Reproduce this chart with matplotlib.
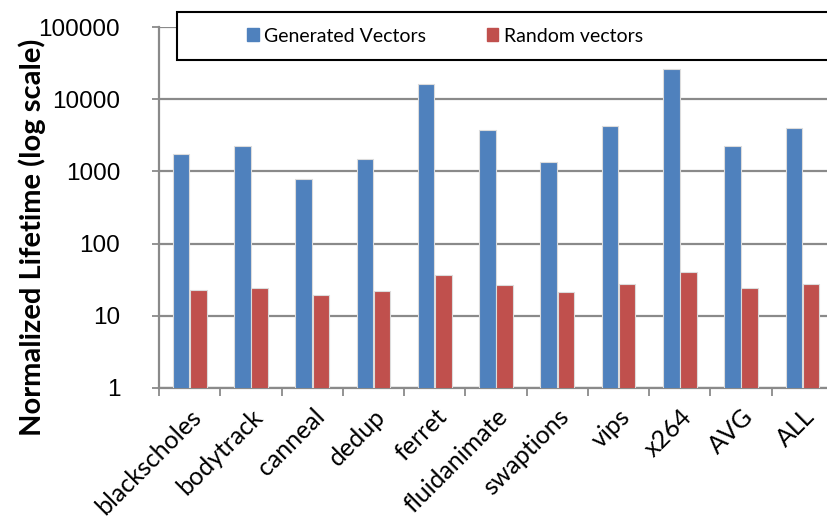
import numpy as np
import matplotlib.pyplot as plt
from matplotlib.patches import Rectangle

benchmarks = ['blackscholes', 'bodytrack', 'canneal', 'dedup', 'ferret',
              'fluidanimate', 'swaptions', 'vips', 'x264', 'AVG', 'ALL']
generated = [1740, 2230, 780, 1500, 16200, 3710, 1360, 4300, 25900, 2270, 3990]
random_vec = [22.8, 24.0, 19.2, 21.8, 36.4, 26.7, 21.6, 27.6, 40.0, 24.0, 27.3]

blue = '#4F81BD'
red = '#C0504D'
grid_gray = '#8A8A8A'

fig = plt.figure(figsize=(8.27, 5.21), dpi=100)
ax = fig.add_axes([0.1923, 0.2553, 0.815, 0.6928])

x = np.arange(len(benchmarks))
w = 0.27
ax.bar(x - 0.14, generated, w, color=blue, edgecolor='#DCDCDC', linewidth=0.8, zorder=3)
ax.bar(x + 0.14, random_vec, w, color=red, edgecolor='#DCDCDC', linewidth=0.8, zorder=3)

ax.set_yscale('log')
ax.set_ylim(1, 100000)
ax.set_xlim(-0.5, len(benchmarks) - 0.5)
ax.set_yticks([1, 10, 100, 1000, 10000, 100000])
ax.set_yticklabels(['1', '10', '100', '1000', '10000', '100000'],
                   family='Liberation Sans', fontsize=17.5)
ax.yaxis.set_minor_locator(plt.NullLocator())
ax.tick_params(axis='y', length=5, width=1.3, color=grid_gray, pad=23)

# category boundaries get the x ticks, names sit under each pair
ax.set_xticks(np.arange(len(benchmarks) + 1) - 0.5)
ax.set_xticklabels([])
ax.set_xticks(x, minor=True)
ax.set_xticklabels(benchmarks, minor=True, rotation=45, ha='right',
                   rotation_mode='anchor', family='Lato', fontsize=18)
ax.tick_params(axis='x', which='minor', length=0, pad=12)
ax.tick_params(axis='x', which='major', length=6, width=1.3, color=grid_gray)

ax.grid(axis='y', color=grid_gray, linewidth=1.6, zorder=0)
for side in ['top', 'right']:
    ax.spines[side].set_visible(False)
for side in ['left', 'bottom']:
    ax.spines[side].set_color(grid_gray)
    ax.spines[side].set_linewidth(1.6)

fig.text(0.039, 0.545, 'Normalized Lifetime (log scale)', rotation=90,
         ha='center', va='center', family='Lato', fontweight='bold', fontsize=21)

# legend box across the top
fig.add_artist(Rectangle((177 / 827, 1 - 60 / 521), 700 / 827, 48 / 521,
                         transform=fig.transFigure, facecolor='white',
                         edgecolor='black', linewidth=1.5, zorder=4))
handles = [Rectangle((0, 0), 1, 1, color=blue), Rectangle((0, 0), 1, 1, color=red)]
leg = fig.legend(handles, ['Generated Vectors', 'Random vectors'], ncol=2,
                 loc='center left', bbox_to_anchor=(247 / 827, 1 - 36 / 521),
                 frameon=False, borderpad=0, borderaxespad=0,
                 handlelength=0.6, handleheight=0.65,
                 handletextpad=0.3, columnspacing=3.1,
                 prop={'family': 'Lato', 'size': 14})
leg.set_zorder(6)

fig.savefig('out.png', dpi=100)
